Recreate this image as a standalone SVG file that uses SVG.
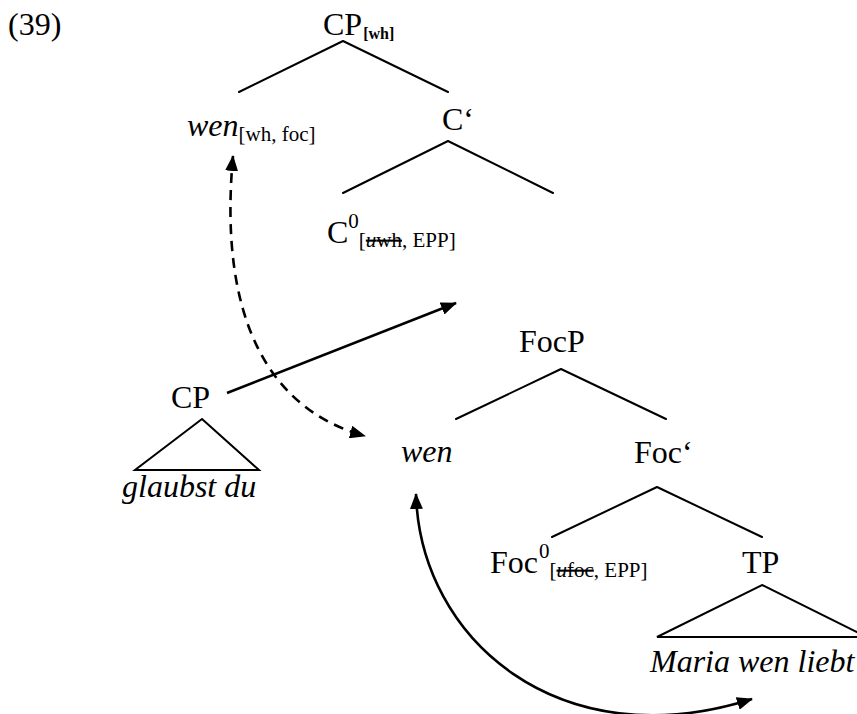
<svg xmlns="http://www.w3.org/2000/svg" width="857" height="714" viewBox="0 0 857 714">
  <style>
    text { font-family: "Liberation Serif", "Times New Roman", serif; fill: #000; }
    .m { font-size: 32px; }
    .it { font-style: italic; }
    .sub { font-size: 21px; font-style: normal; }
    .sb { font-size: 16px; font-weight: bold; }
    .br { fill: none; stroke: #000; stroke-width: 2; stroke-linecap: round; stroke-linejoin: round; }
    .tri { fill: none; stroke: #000; stroke-width: 2; stroke-linejoin: miter; }
    .mv { fill: none; stroke: #000; stroke-width: 2.6; }
    .dash { stroke-dasharray: 10 7; }
    .del { text-decoration: line-through; }
  </style>
  <defs>
    <marker id="ah" viewBox="0 0 16 13" refX="15" refY="6.5" markerWidth="16" markerHeight="13" markerUnits="userSpaceOnUse" orient="auto-start-reverse">
      <path d="M0,0 L16,6.5 L0,13 z" fill="#000"/>
    </marker>
  </defs>

  <rect width="857" height="714" fill="#fff"/>

  <text id="ex-num" class="m" x="8" y="35">(39)</text>

  <!-- tree branches -->
  <g id="branches">
    <path class="br" d="M239,92 L343,41 L448,92"/>
    <path class="br" d="M343,193 L448,141 L553,193"/>
    <path class="br" d="M456,419 L561,369 L666,419"/>
    <path class="br" d="M552,537 L657,487 L762,537"/>
  </g>

  <g id="cp-wh">
    <text class="m" x="323" y="35">CP<tspan class="sb" dx="1" y="39">[wh]</tspan></text>
  </g>

  <g id="wen-spec">
    <text class="m it" x="187" y="136">wen<tspan class="sub" y="141">[wh, foc]</tspan></text>
  </g>

  <g id="c-bar">
    <text class="m" x="442" y="130">C‘</text>
  </g>

  <g id="c-head">
    <text class="m" x="327" y="243">C<tspan class="sub" y="228">0</tspan><tspan class="sub" y="247">[<tspan class="del"><tspan font-style="italic">u</tspan>wh</tspan>, EPP]</tspan></text>
  </g>

  <g id="cp-matrix">
    <text class="m" x="171" y="408">CP</text>
    <path class="tri" d="M202,419 L259,470 L135,470 Z"/>
    <text class="m it" x="122" y="497">glaubst du</text>
  </g>

  <g id="focp">
    <text class="m" x="519" y="352">FocP</text>
  </g>

  <g id="wen-low">
    <text class="m it" x="401" y="462">wen</text>
  </g>

  <g id="foc-bar">
    <text class="m" x="634" y="463">Foc‘</text>
  </g>

  <g id="foc-head">
    <text class="m" x="490" y="573">Foc<tspan class="sub" dx="1" y="558">0</tspan><tspan class="sub" y="577">[<tspan class="del"><tspan font-style="italic">u</tspan>foc</tspan>, EPP]</tspan></text>
  </g>

  <g id="tp">
    <text class="m" x="742" y="573">TP</text>
    <path class="tri" d="M762,585 L867,637 L657,637 Z"/>
    <text class="m it" x="650" y="672">Maria wen liebt</text>
  </g>

  <!-- movement arrows -->
  <g id="connectors">
    <path class="mv" d="M227,393 L456,303" marker-end="url(#ah)"/>
    <path class="mv dash" d="M233,156 C218,320 270,410 365,436" marker-start="url(#ah)" marker-end="url(#ah)"/>
    <path class="mv" d="M416,494 C420,640 560,760 752,699" marker-start="url(#ah)" marker-end="url(#ah)"/>
  </g>
</svg>
